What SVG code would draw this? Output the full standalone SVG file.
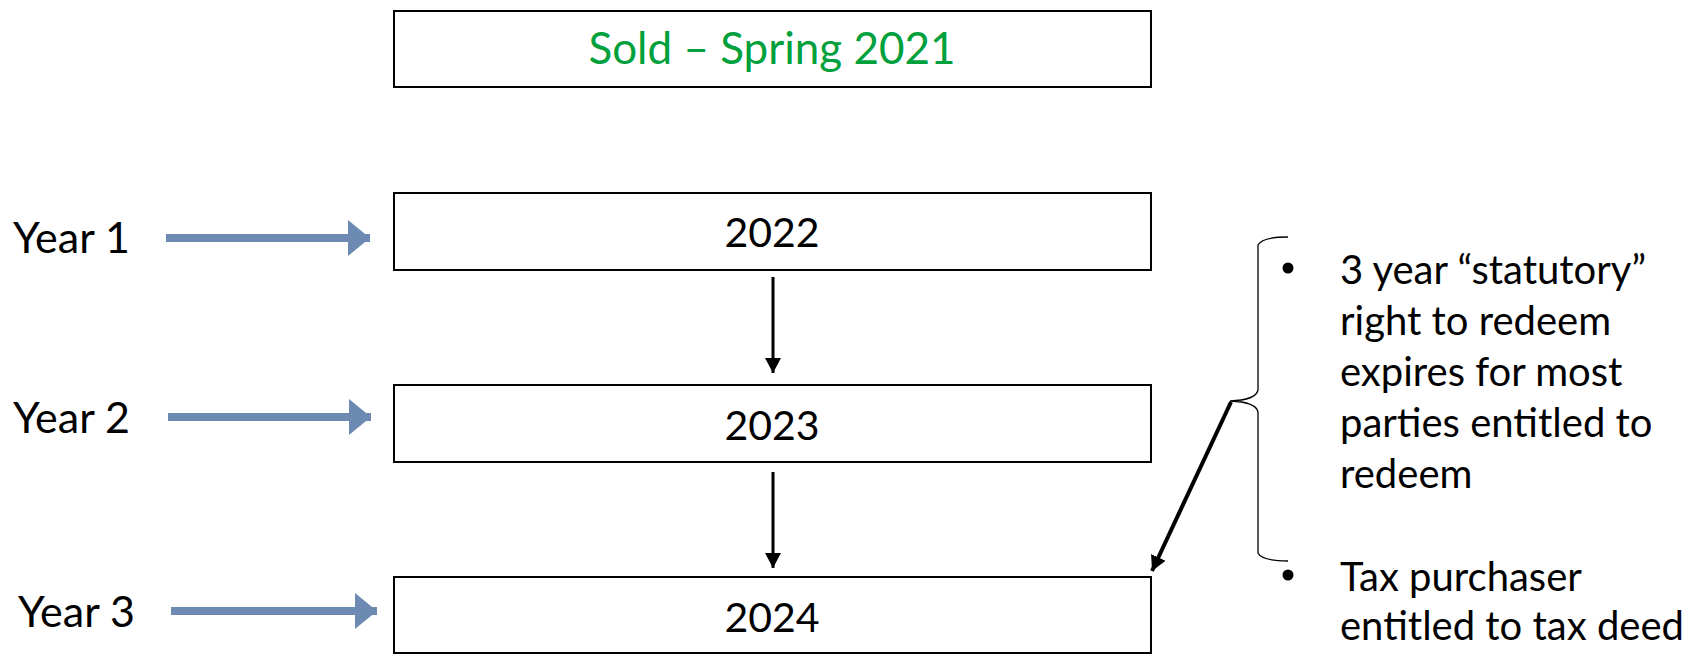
<svg xmlns="http://www.w3.org/2000/svg" width="1697" height="654" viewBox="0 0 1697 654">
<style>
.box{fill:#fff;stroke:#000;stroke-width:2}
.lbl{font-family:Lato,"Open Sans","Liberation Sans",sans-serif;font-size:41px;fill:#000}
.yr{font-size:43px}
.mid{text-anchor:middle}
.side{font-family:Lato,"Open Sans","Liberation Sans",sans-serif;font-size:40px;fill:#000}
.blue{stroke:#6D8BB2;stroke-width:8;fill:none}
.blk{stroke:#000;stroke-width:3;fill:none}
</style>
<defs>
<marker id="bh" markerUnits="userSpaceOnUse" markerWidth="24" markerHeight="36" refX="22" refY="18" orient="auto">
<path d="M0,0 L22,18 L0,36 Z" fill="#6D8BB2"/>
</marker>
<marker id="kh" markerUnits="userSpaceOnUse" markerWidth="16" markerHeight="16" refX="15" refY="8" orient="auto">
<path d="M0,0 L15,8 L0,16 Z" fill="#000"/>
</marker>
</defs>
<rect width="1697" height="654" fill="#fff"/>
<g id="node-sold">
<rect class="box" x="394" y="11" width="757" height="76"/>
<text class="lbl mid" x="772" y="64" style="fill:#00A03C;font-size:44px">Sold – Spring 2021</text>
</g>
<g id="node-2022">
<rect class="box" x="394" y="193" width="757" height="77"/>
<text class="lbl mid" x="772" y="247">2022</text>
</g>
<g id="node-2023">
<rect class="box" x="394" y="385" width="757" height="77"/>
<text class="lbl mid" x="772" y="440">2023</text>
</g>
<g id="node-2024">
<rect class="box" x="394" y="577" width="757" height="76"/>
<text class="lbl mid" x="772" y="632">2024</text>
</g>
<g id="label-year1"><text class="lbl yr" x="13" y="253">Year 1</text></g>
<g id="label-year2"><text class="lbl yr" x="13" y="433">Year 2</text></g>
<g id="label-year3"><text class="lbl yr" x="18" y="627">Year 3</text></g>
<g id="notes">
<circle cx="1288" cy="268" r="5.5" fill="#000"/>
<text class="side" x="1340" y="284">3 year “statutory”</text>
<text class="side" x="1340" y="335">right to redeem</text>
<text class="side" x="1340" y="386">expires for most</text>
<text class="side" x="1340" y="437">parties entitled to</text>
<text class="side" x="1340" y="488">redeem</text>
<circle cx="1288" cy="575" r="5.5" fill="#000"/>
<text class="side" x="1340" y="591">Tax purchaser</text>
<text class="side" x="1340" y="640">entitled to tax deed</text>
</g>
<g id="brace">
<path d="M1288,237 Q1262,237 1258,245 L1258,390 Q1256,400 1230,401 Q1256,402 1258,412 L1258,553 Q1262,561 1288,561" fill="none" stroke="#000" stroke-width="1.3"/>
</g>
<g id="connectors">
<line class="blue" x1="166" y1="238" x2="370" y2="238" marker-end="url(#bh)"/>
<line class="blue" x1="168" y1="417" x2="371" y2="417" marker-end="url(#bh)"/>
<line class="blue" x1="171" y1="611" x2="377" y2="611" marker-end="url(#bh)"/>
<line class="blk" x1="773" y1="277" x2="773" y2="373" marker-end="url(#kh)"/>
<line class="blk" x1="773" y1="472" x2="773" y2="568" marker-end="url(#kh)"/>
<line class="blk" x1="1231" y1="402" x2="1152" y2="571" style="stroke-width:4" marker-end="url(#kh)"/>
</g>
</svg>
